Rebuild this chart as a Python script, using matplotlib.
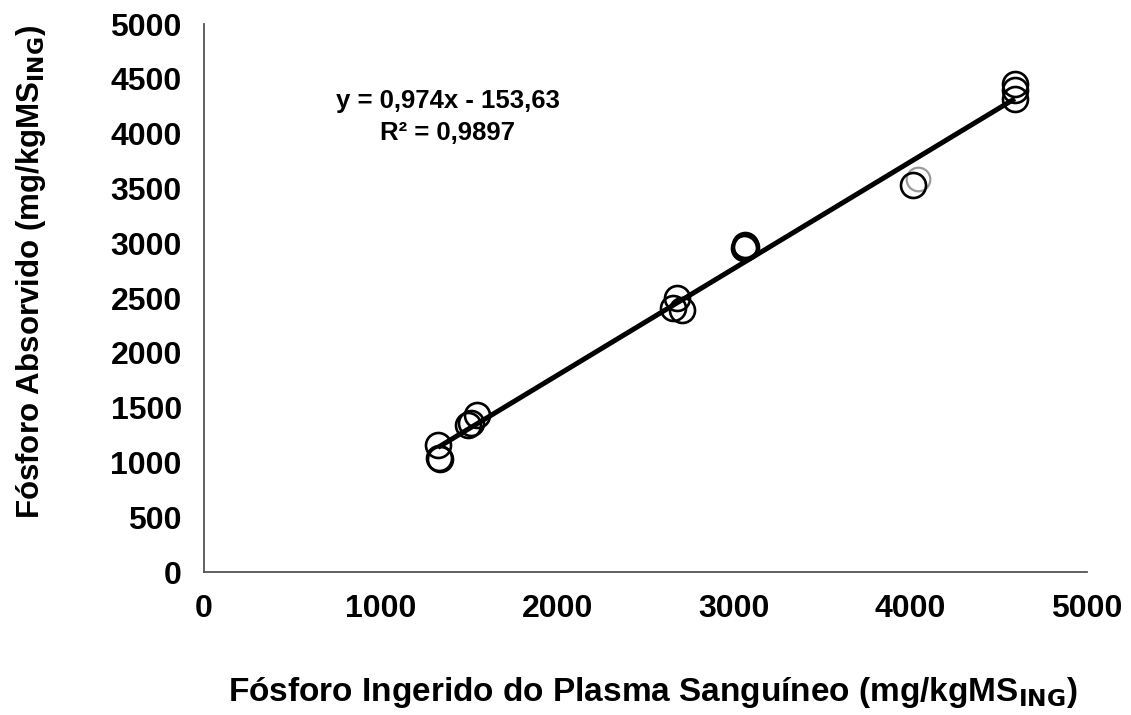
import numpy as np
import matplotlib
matplotlib.use('Agg')
import matplotlib.pyplot as plt

plt.rcParams['font.family'] = ['Liberation Sans', 'DejaVu Sans']
plt.rcParams['font.weight'] = 'bold'

# data
p_ingerido = [1325, 1330, 1335, 1495, 1510, 1546, 2656, 2678, 2707,
              3060, 3065, 3070, 4015, 4592, 4592, 4592]
p_absorvido = [1160, 1040, 1030, 1340, 1355, 1430, 2410, 2500, 2390,
               2960, 2985, 2970, 3530, 4450, 4400, 4320]
# one lighter point
p_ing_light = [4043]
p_abs_light = [3586]

slope, intercept = 0.974, -153.63
eq_text = "y = 0,974x - 153,63\nR² = 0,9897"

x_ticks = [0, 1000, 2000, 3000, 4000, 5000]
y_ticks = [0, 500, 1000, 1500, 2000, 2500, 3000, 3500, 4000, 4500, 5000]

fig = plt.figure(figsize=(11.31, 7.15), dpi=100)
ax = fig.add_axes([0.1804, 0.2, 0.7806, 0.7664])

ax.plot(p_ing_light, p_abs_light, 'o', ms=17, mfc='none', mec='#9a9a9a', mew=1.6)
ax.plot(p_ingerido, p_absorvido, 'o', ms=18, mfc='none', mec='black', mew=1.9)

xl = np.array([min(p_ingerido), max(p_ingerido)])
ax.plot(xl, slope * xl + intercept, color='black', lw=3.6, solid_capstyle='butt')

ax.set_xlim(0, 5000)
ax.set_ylim(0, 5000)
ax.set_xticks(x_ticks)
ax.set_yticks(y_ticks)
ax.tick_params(length=0, labelsize=23, pad=16)
for lab in ax.get_xticklabels() + ax.get_yticklabels():
    lab.set_fontweight('bold')

for s in ['top', 'right']:
    ax.spines[s].set_visible(False)
for s in ['left', 'bottom']:
    ax.spines[s].set_color('#555555')
    ax.spines[s].set_linewidth(1.3)

ax.text(1380, 4150, eq_text, ha='center', va='center', fontsize=18.5,
        fontweight='bold', linespacing=1.45)

fig.text(0.577, 0.032, 'Fósforo Ingerido do Plasma Sanguíneo (mg/kgMS$_{\\mathbf{ING}}$)',
         ha='center', va='center', fontsize=24, fontweight='bold')
fig.text(0.027, 0.62, 'Fósforo Absorvido (mg/kgMS$_{\\mathbf{ING}}$)',
         ha='center', va='center', fontsize=22.5, fontweight='bold', rotation=90)

fig.savefig('out.png', dpi=100)
